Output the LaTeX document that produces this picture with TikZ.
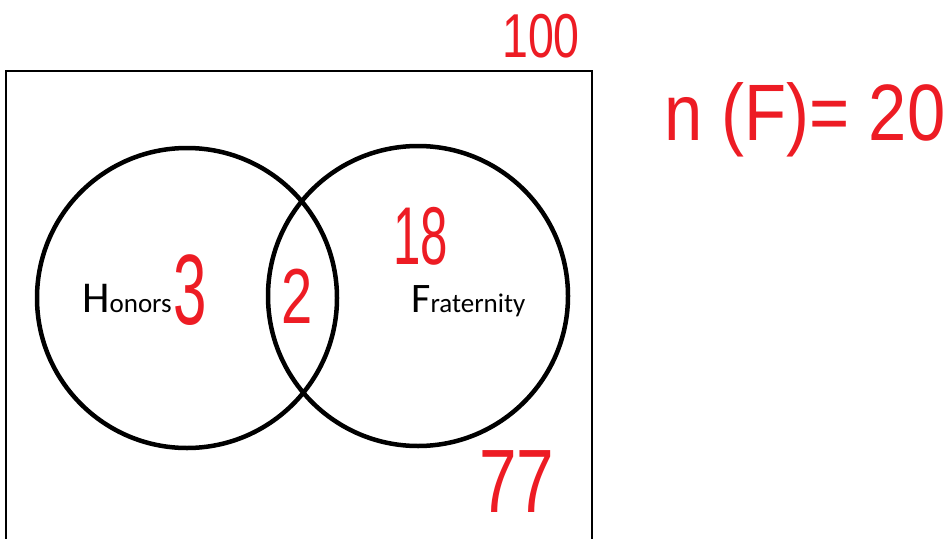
\documentclass[tikz,border=0pt]{standalone}
\usepackage{fontspec}
\setmainfont{Carlito}
\newfontfamily\handfont{Liberation Sans}
\definecolor{inkred}{RGB}{237,28,36}
\tikzset{
  setcircle/.style={draw=black, line width=4.5pt},
  universe/.style={draw=black, line width=1.5pt},
  hand/.style={text=inkred, inner sep=0pt, font=\handfont},
  lbl/.style={inner sep=0pt, anchor=base west},
}
\newcommand{\fs}[1]{\fontsize{#1}{#1}\selectfont}
\begin{document}
\begin{tikzpicture}[x=1pt,y=-1pt]
\useasboundingbox (0,0) rectangle (950,538);
\fill[white] (0,0) rectangle (950,538);
% universe
\draw[universe] (6,560) -- (6,71) -- (592,71) -- (592,560);
% circles
\draw[setcircle] (187,298) circle (150);
\draw[setcircle] (418,296) circle (150);
% labels
\node[lbl] (hon) at (82,312) {\fs{44}H\fs{27}onors};
\node[lbl] (fra) at (411,312) {\fs{42}F\fs{27}raternity};
% handwritten numbers
\node[hand, xscale=0.75] (hundred) at (541,36) {\fs{62}100};
\node[hand, xscale=0.86] (nf) at (805,120) {\fs{80}n (F)= 20};
\node[hand, xscale=0.6] (three) at (190,290) {\fs{100}3};
\node[hand, xscale=0.72] (two) at (297,296) {\fs{78}2};
\node[hand, xscale=0.6] (eighteen) at (421,236) {\fs{82}18};
\node[hand, xscale=0.75] (seventy) at (517,482) {\fs{90}77};
\end{tikzpicture}
\end{document}
